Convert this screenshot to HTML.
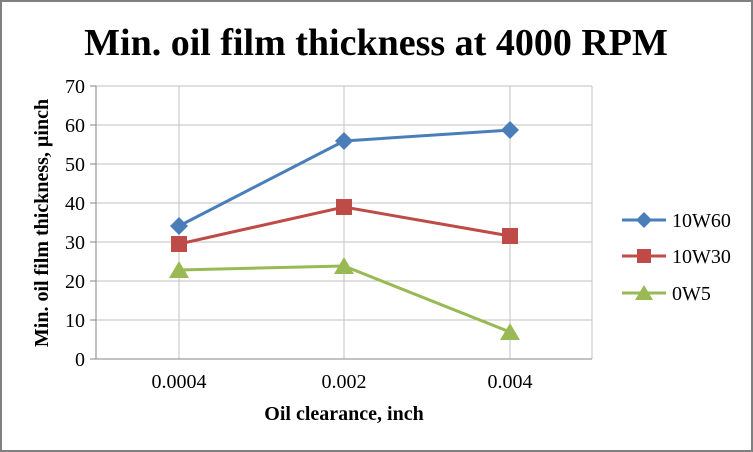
<!DOCTYPE html><html><head><style>body{margin:0}svg{display:block}</style></head><body>
<svg width="753" height="452" xmlns="http://www.w3.org/2000/svg" font-family="Liberation Serif, serif">
<rect x="0" y="0" width="753" height="452" fill="#fff"/>
<rect x="1" y="1" width="751" height="450" fill="none" stroke="#808080" stroke-width="2"/>
<text x="376" y="55" text-anchor="middle" font-size="38" font-weight="bold">Min. oil film thickness at 4000 RPM</text>
<g stroke="#c0c0c0" stroke-width="1">
<line x1="96" y1="86" x2="592" y2="86"/><line x1="96" y1="125" x2="592" y2="125"/><line x1="96" y1="164" x2="592" y2="164"/><line x1="96" y1="203" x2="592" y2="203"/><line x1="96" y1="242" x2="592" y2="242"/><line x1="96" y1="281" x2="592" y2="281"/><line x1="96" y1="320" x2="592" y2="320"/>
<line x1="179" y1="86" x2="179" y2="359"/><line x1="344" y1="86" x2="344" y2="359"/><line x1="510" y1="86" x2="510" y2="359"/><line x1="592" y1="86" x2="592" y2="359"/>
</g>
<g stroke="#868686" stroke-width="1">
<line x1="96" y1="86" x2="96" y2="359"/><line x1="90" y1="359" x2="592" y2="359"/>
<line x1="90" y1="86" x2="96" y2="86"/><line x1="90" y1="125" x2="96" y2="125"/><line x1="90" y1="164" x2="96" y2="164"/><line x1="90" y1="203" x2="96" y2="203"/><line x1="90" y1="242" x2="96" y2="242"/><line x1="90" y1="281" x2="96" y2="281"/><line x1="90" y1="320" x2="96" y2="320"/>
</g>
<g font-size="20" text-anchor="end">
<text x="85" y="93">70</text><text x="85" y="132">60</text><text x="85" y="171">50</text><text x="85" y="210">40</text><text x="85" y="249">30</text><text x="85" y="288">20</text><text x="85" y="327">10</text><text x="85" y="366">0</text>
</g>
<g font-size="20" text-anchor="middle">
<text x="179" y="388">0.0004</text><text x="344" y="388">0.002</text><text x="510" y="388">0.004</text>
</g>
<text x="344" y="420" text-anchor="middle" font-size="20" font-weight="bold">Oil clearance, inch</text>
<text transform="translate(48,223) rotate(-90)" text-anchor="middle" font-size="20" font-weight="bold">Min. oil film thickness, µinch</text>
<polyline points="179,226 344,141 510,130" fill="none" stroke="#4a7ebb" stroke-width="3"/>
<polyline points="179,244 344,207 510,236" fill="none" stroke="#be4b48" stroke-width="3"/>
<polyline points="179,270 344,266 510,332" fill="none" stroke="#98b954" stroke-width="3"/>
<g fill="#4a7ebb"><polygon points="179,217 188,226 179,235 170,226"/><polygon points="344,132 353,141 344,150 335,141"/><polygon points="510,121 519,130 510,139 501,130"/></g>
<g fill="#be4b48"><rect x="171" y="236" width="16" height="16"/><rect x="336" y="199" width="16" height="16"/><rect x="502" y="228" width="16" height="16"/></g>
<g fill="#98b954"><polygon points="179,261 189,278 169,278"/><polygon points="344,257 354,274 334,274"/><polygon points="510,323 520,340 500,340"/></g>
<g font-size="20">
<line x1="622" y1="220" x2="666" y2="220" stroke="#4a7ebb" stroke-width="3"/><polygon points="644,212 652,220 644,228 636,220" fill="#4a7ebb"/><text x="672" y="227">10W60</text>
<line x1="622" y1="256" x2="666" y2="256" stroke="#be4b48" stroke-width="3"/><rect x="637" y="249" width="14" height="14" fill="#be4b48"/><text x="672" y="263">10W30</text>
<line x1="622" y1="293" x2="666" y2="293" stroke="#98b954" stroke-width="3"/><polygon points="644,285 653,300 635,300" fill="#98b954"/><text x="672" y="300">0W5</text>
</g>
</svg></body></html>
